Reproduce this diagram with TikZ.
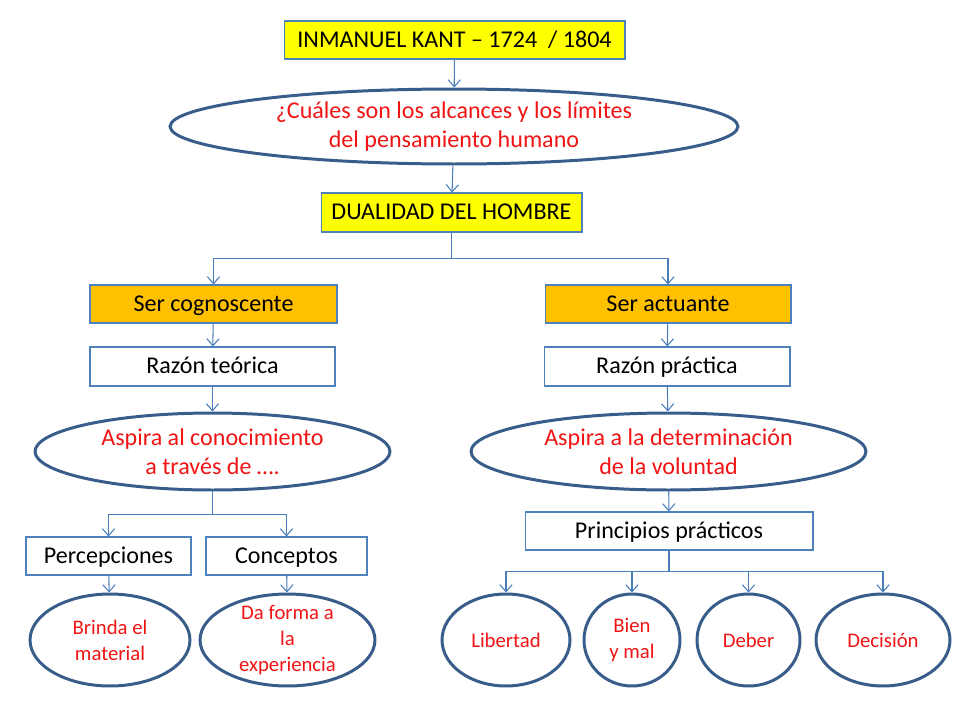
\documentclass[tikz,border=0pt]{standalone}
\usepackage{fontspec}
\setmainfont{Carlito}
\usepackage{tikz}
\usetikzlibrary{shapes.geometric}
\usetikzlibrary{arrows.meta}
\definecolor{boxline}{HTML}{4F81BD}
\definecolor{ovalline}{HTML}{385D8A}
\definecolor{arrowline}{HTML}{4A7EBB}
\definecolor{kyellow}{HTML}{FFFF00}
\definecolor{korange}{HTML}{FFC000}
\definecolor{kred}{HTML}{F01414}

\begin{document}
\begin{tikzpicture}[x=0.02cm,y=-0.02cm,
  box/.style={draw=boxline,line width=.6pt,inner sep=0pt,text height=10.5pt,text depth=2pt,font=\fontsize{13.7}{16}\selectfont},
  oval/.style={ellipse,draw=ovalline,line width=1.7pt,inner sep=0pt,text=kred,align=center,font=\fontsize{13.7}{16.3}\selectfont},
  smalloval/.style={oval,font=\fontsize{11.8}{14.8}\selectfont},
  arr/.style={draw=arrowline,line width=.6pt,-{Straight Barb[length=4pt,width=7pt]}}]
  \useasboundingbox (0,0) rectangle (960,720);
  % top of the map
  \node[box,fill=kyellow,minimum width=6.82cm,minimum height=.76cm] (kant) at (454.5,40) {INMANUEL KANT -- 1724\ \ / 1804};
  \node[oval,minimum width=11.36cm,minimum height=1.5cm] (limits) at (454,126.5) {¿Cuáles son los alcances y los límites\\del pensamiento humano};
  \node[box,fill=kyellow,minimum width=5.22cm,minimum height=.78cm] (dual) at (451.5,212.5) {DUALIDAD DEL HOMBRE};
  % two branches
  \node[box,fill=korange,minimum width=4.94cm,minimum height=.76cm] (cog) at (213.5,304) {Ser cognoscente};
  \node[box,fill=korange,minimum width=4.92cm,minimum height=.76cm] (act) at (668,304) {Ser actuante};
  \node[box,minimum width=4.9cm,minimum height=.78cm] (rteo) at (212.5,366.5) {Razón teórica};
  \node[box,minimum width=4.92cm,minimum height=.78cm] (rpra) at (667,366.5) {Razón práctica};
  \node[oval,minimum width=7.1cm,minimum height=1.54cm] (aspl) at (212.5,451.5) {Aspira al conocimiento\\a través de ….};
  \node[oval,minimum width=7.9cm,minimum height=1.54cm] (aspr) at (668.5,451.5) {Aspira a la determinación\\de la voluntad};
  % left side
  \node[box,minimum width=3.3cm,minimum height=.76cm] (perc) at (108.5,556) {Percepciones};
  \node[box,minimum width=3.22cm,minimum height=.76cm] (conc) at (286.5,556) {Conceptos};
  \node[smalloval,minimum width=3.2cm,minimum height=1.84cm] (brinda) at (110,640) {Brinda el\\material};
  \node[smalloval,inner ysep=-2.8pt,minimum width=3.5cm,minimum height=1.84cm] (forma) at (287.5,640) {Da forma a\\la\\experiencia};
  % right side
  \node[box,minimum width=5.76cm,minimum height=.76cm] (princ) at (669,531) {Principios prácticos};
  \node[smalloval,minimum width=2.56cm,minimum height=1.84cm] (lib) at (506,640) {Libertad};
  \node[smalloval,minimum width=1.92cm,minimum height=1.84cm] (bien) at (632,640) {Bien\\y mal};
  \node[smalloval,minimum width=2.06cm,minimum height=1.84cm] (deber) at (748.5,640) {Deber};
  \node[smalloval,minimum width=2.68cm,minimum height=1.84cm] (decis) at (883,640) {Decisión};
  % connectors
  \draw[arr] (kant) -- (limits);
  \draw[arr] (limits) -- (dual);
  \draw[arr] (dual.south) -- ++(0,26) -| (cog.north);
  \draw[arr] (dual.south) -- ++(0,26) -| (act.north);
  \draw[arr] (cog) -- (rteo);
  \draw[arr] (act) -- (rpra);
  \draw[arr] (rteo) -- (aspl);
  \draw[arr] (rpra) -- (aspr);
  \draw[arr] (aspl.south) -- ++(0,23) -| (perc.north);
  \draw[arr] (aspl.south) -- ++(0,23) -| (conc.north);
  \draw[arr] (perc) -- (brinda);
  \draw[arr] (conc) -- (forma);
  \draw[arr] (aspr) -- (princ);
  \draw[arr] (princ.south) -- ++(0,21) -| (lib.north);
  \draw[arr] (princ.south) -- ++(0,21) -| (bien.north);
  \draw[arr] (princ.south) -- ++(0,21) -| (deber.north);
  \draw[arr] (princ.south) -- ++(0,21) -| (decis.north);
\end{tikzpicture}
\end{document}
